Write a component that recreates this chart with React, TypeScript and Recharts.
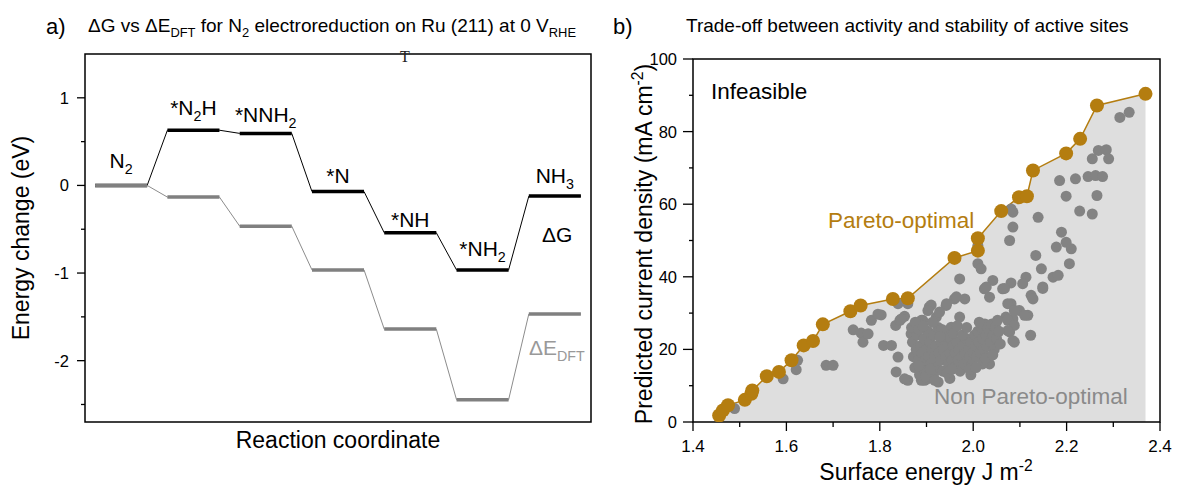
import React from 'react'
import { ComposedChart, Line, Area, Scatter, XAxis, YAxis, ReferenceArea } from 'recharts'

const FONT = '"Liberation Sans", Arial, Helvetica, sans-serif'
const ORANGE = '#b47d10'
const DOT_GRAY = '#838383'

// ---- panel a: energy diagram ----
const steps = ['N_2', '*N_2H', '*NNH_2', '*N', '*NH', '*NH_2', 'NH_3']
const dG = [0, 0.63, 0.594, -0.07, -0.54, -0.964, -0.122]
const dE = [0, -0.133, -0.465, -0.964, -1.64, -2.446, -1.467]
const energyTicks = [-2.5, -2, -1.5, -1, -0.5, 0, 0.5, 1]
// gap (px) between each level and its label baseline
const LABEL_GAP = [17, 15, 11, 9, 6, 14, 13]
const HALF = 0.36

// ---- panel b: pareto front ----
const paretoX = [1.456, 1.464, 1.475, 1.511, 1.525, 1.527, 1.558, 1.584, 1.611, 1.637, 1.657, 1.678, 1.737, 1.759, 1.828, 1.86, 1.96, 2.01, 2.01, 2.06, 2.098, 2.115, 2.128, 2.199, 2.229, 2.265, 2.369]
const paretoY = [1.8, 3.2, 4.6, 6.1, 7.8, 8.7, 12.6, 13.8, 17.0, 21.1, 22.3, 26.9, 30.5, 32.1, 33.9, 34.1, 45.2, 47.2, 50.6, 58.1, 61.9, 62.2, 69.3, 74.0, 78.0, 87.2, 90.4]
const otherPoints: [number, number][] = [
  [1.489, 3.7], [1.593, 11.9], [1.624, 17.0], [1.621, 14.4], [1.685, 15.6], [1.7, 15.6],
  [1.743, 25.4], [1.76, 24.5], [1.764, 22.0], [1.782, 28.0], [1.803, 29.5], [1.808, 21.1],
  [1.825, 21.1], [1.839, 17.9], [1.835, 13.8], [1.839, 32.6], [1.834, 26.6], [1.843, 28.0],
  [1.853, 29.1], [1.86, 32.6], [1.86, 11.5], [1.867, 24.3], [1.896, 11.5], [1.892, 28.0],
  [1.906, 31.7], [1.921, 28.9], [1.942, 32.1], [1.96, 33.9], [1.982, 33.9], [1.971, 39.4],
  [1.971, 28.9], [1.953, 26.1], [2.01, 43.6], [2.017, 42.2], [2.01, 48.6], [2.024, 36.7],
  [2.042, 39.0], [2.035, 34.4], [2.063, 36.7], [2.081, 38.3], [2.078, 50.0], [2.085, 53.7],
  [2.085, 57.8], [2.081, 58.7], [2.113, 39.9], [2.106, 38.1], [2.124, 34.9], [2.128, 33.9],
  [2.139, 56.4], [2.134, 45.9], [2.146, 42.2], [2.149, 37.2], [2.081, 32.6], [2.099, 30.7],
  [2.117, 29.4], [2.07, 28.9], [2.085, 28.4], [2.078, 24.8], [2.088, 22.0], [2.123, 23.9],
  [2.171, 39.9], [2.182, 40.4], [2.178, 48.2], [2.189, 52.3], [2.199, 49.5], [2.21, 47.7],
  [2.206, 43.6], [2.185, 66.5], [2.199, 62.2], [2.219, 67.0], [2.228, 58.1], [2.255, 57.3],
  [2.246, 67.6], [2.262, 67.9], [2.277, 67.6], [2.265, 62.4], [2.255, 72.5], [2.268, 74.8],
  [2.285, 75.0], [2.29, 72.5], [2.314, 83.9], [2.334, 85.3],
  [1.91, 32.2], [1.943, 32.6], [1.964, 34.5], [1.903, 30.7], [1.928, 30.3], [1.889, 28.0],
  [1.846, 28.4], [1.796, 29.7], [1.775, 24.3], [2.028, 37.2], [2.067, 36.8], [2.149, 36.8],
  [2.074, 32.6], [2.088, 30.7], [2.11, 29.4], [2.074, 28.0], [2.088, 26.6], [2.074, 25.2],
  [2.085, 22.4], [1.853, 11.9], [1.889, 11.5],
  [1.87, 22], [1.872, 18], [1.875, 15], [1.878, 20], [1.88, 24], [1.882, 17], [1.885, 13],
  [1.887, 21], [1.89, 19], [1.892, 15], [1.895, 23], [1.897, 17], [1.9, 20], [1.9, 14],
  [1.903, 25], [1.905, 18], [1.907, 22], [1.91, 16], [1.912, 20], [1.915, 13], [1.915, 24],
  [1.918, 18], [1.92, 21], [1.922, 15], [1.925, 26], [1.927, 19], [1.93, 17], [1.932, 22],
  [1.935, 14], [1.937, 20], [1.94, 24], [1.942, 18], [1.945, 21], [1.947, 16], [1.95, 19],
  [1.952, 23], [1.955, 17], [1.957, 21], [1.96, 15], [1.962, 19], [1.965, 22], [1.968, 17],
  [1.97, 20], [1.972, 14], [1.975, 18], [1.978, 21], [1.98, 16], [1.983, 19], [1.985, 23],
  [1.988, 17], [1.99, 20], [1.993, 18], [1.995, 22], [1.998, 16], [2.0, 19], [2.003, 24],
  [2.005, 21], [2.008, 18], [2.01, 25], [2.012, 22], [2.015, 19], [2.018, 26], [2.02, 23],
  [2.022, 20], [2.025, 27], [2.028, 24], [2.03, 21], [2.033, 18], [2.035, 25], [2.038, 22],
  [2.04, 27], [2.043, 24], [2.045, 20], [2.048, 26], [2.05, 23], [2.055, 25], [2.035, 16],
  [2.02, 16], [1.995, 13], [1.95, 12], [1.925, 11], [1.905, 12],
  [1.868, 26], [1.876, 27.5], [1.884, 25.5], [1.893, 26.5], [1.898, 12.5], [1.913, 27.5],
  [1.918, 11.5], [1.933, 25.5], [1.944, 13.5], [1.958, 24.5], [1.966, 26.5], [1.977, 24],
  [1.986, 26], [1.992, 14.5], [2.006, 15], [2.013, 27.5], [2.026, 17.5], [2.042, 18.5],
  [2.052, 28], [2.058, 21.5], [1.883, 15.5], [1.908, 14.5], [1.929, 23.5], [1.954, 14.5],
]
const surfaceTicks = [1.4, 1.5, 1.6, 1.7, 1.8, 1.9, 2.0, 2.1, 2.2, 2.3, 2.4]
const currentTicks = [0, 10, 20, 30, 40, 50, 60, 70, 80, 90, 100]

// "_x" / "_{xyz}" subscript, "^{..}" superscript
function rich(text: string, size: number) {
  const nodes: React.ReactNode[] = []
  const re = /([_^])(\{[^}]*\}|.)/g
  let last = 0
  let off = 0
  let k = 0
  let m: RegExpExecArray | null
  const push = (s: string, shift: number, fs: number) => {
    nodes.push(<tspan key={k++} dy={shift - off} fontSize={fs}>{s}</tspan>)
    off = shift
  }
  while ((m = re.exec(text)) !== null) {
    if (m.index > last) push(text.slice(last, m.index), 0, size)
    const body = m[2].startsWith('{') ? m[2].slice(1, -1) : m[2]
    push(body, m[1] === '_' ? size * 0.28 : -size * 0.4, size * 0.68)
    last = re.lastIndex
  }
  if (last < text.length) push(text.slice(last), 0, size)
  return nodes
}

function levelRows(vals: number[]) {
  const rows: { x: number; y: number | null }[] = []
  vals.forEach((v, i) => {
    rows.push({ x: i - HALF, y: v }, { x: i + HALF, y: v }, { x: i + HALF, y: null })
  })
  return rows
}
function pathRows(vals: number[]) {
  return vals.flatMap((v, i) => [{ x: i - HALF, y: v }, { x: i + HALF, y: v }])
}

const EnergyTick = (props: any) => {
  const { x, y, payload } = props
  const major = Number.isInteger(payload.value)
  return (
    <g>
      <line x1={x - (major ? 8 : 4)} x2={x} y1={y} y2={y} stroke="#000" strokeWidth={1.3} />
      {major && (
        <text x={x - 16} y={y} dy="0.36em" textAnchor="end" fontSize={16.5} fontFamily={FONT} fill="#000">
          {payload.value}
        </text>
      )}
    </g>
  )
}

const CurrentTick = (props: any) => {
  const { x, y, payload } = props
  const major = payload.value % 20 === 0
  return (
    <g>
      <line x1={x - (major ? 10 : 4)} x2={x} y1={y} y2={y} stroke="#000" strokeWidth={1.3} />
      {major && (
        <text x={x - 16} y={y} dy="0.36em" textAnchor="end" fontSize={16.5} fontFamily={FONT} fill="#000">
          {payload.value}
        </text>
      )}
    </g>
  )
}

const SurfaceTick = (props: any) => {
  const { x, y, payload } = props
  const major = Math.round(payload.value * 10) % 2 === 0
  return (
    <g>
      <line x1={x} x2={x} y1={y} y2={y + (major ? 9 : 5)} stroke="#000" strokeWidth={1.3} />
      {major && (
        <text x={x} y={y + 30} textAnchor="middle" fontSize={17} fontFamily={FONT} fill="#000">
          {payload.value.toFixed(1)}
        </text>
      )}
    </g>
  )
}

export default function App() {
  const labelRows = steps.map((s, i) => ({ x: i, y: dG[i], label: s, gap: LABEL_GAP[i] }))
  const paretoRows = paretoX.map((x, i) => ({ x, y: paretoY[i] }))
  const otherRows = otherPoints.map(([x, y]) => ({ x, y }))

  return (
    <div style={{ position: 'absolute', left: 0, top: 0, width: 1177, height: 487, background: '#fff', fontFamily: FONT }}>
      <div style={{ position: 'absolute', left: 0, top: 0 }}>
        <ComposedChart width={600} height={487} margin={{ top: 54, right: 9, bottom: 65, left: 40 }}>
          <XAxis type="number" dataKey="x" domain={[-0.5, 6.5]} hide allowDataOverflow />
          <YAxis
            type="number"
            dataKey="y"
            domain={[-2.7, 1.5]}
            ticks={energyTicks}
            interval={0}
            width={45}
            tickSize={0}
            tickMargin={0}
            tickLine={false}
            axisLine={false}
            tick={<EnergyTick />}
            allowDataOverflow
          />
          <Line data={pathRows(dG)} dataKey="y" stroke="#000" strokeWidth={1} dot={false} isAnimationActive={false} />
          <Line data={levelRows(dG)} dataKey="y" stroke="#000" strokeWidth={3.5} dot={false} isAnimationActive={false} />
          <Line data={pathRows(dE)} dataKey="y" stroke="#8c8c8c" strokeWidth={1} dot={false} isAnimationActive={false} />
          <Line data={levelRows(dE)} dataKey="y" stroke="#808080" strokeWidth={3.5} dot={false} isAnimationActive={false} />
          <Scatter
            data={labelRows}
            isAnimationActive={false}
            shape={(p: any) => (
              <text x={p.cx} y={p.cy - p.payload.gap} textAnchor="middle" fontSize={21} fontFamily={FONT} fill="#000">
                {rich(p.payload.label, 21)}
              </text>
            )}
          />
          <ReferenceArea x1={-0.5} x2={6.5} y1={-2.7} y2={1.5} fill="none" fillOpacity={0} stroke="#000" strokeWidth={1.5} ifOverflow="visible" />
        </ComposedChart>
      </div>

      <div style={{ position: 'absolute', left: 600, top: 0 }}>
        <ComposedChart width={577} height={487} margin={{ top: 59, right: 17, bottom: 25, left: 43 }}>
          <XAxis
            type="number"
            dataKey="x"
            domain={[1.4, 2.4]}
            ticks={surfaceTicks}
            interval={0}
            height={40}
            tickSize={0}
            tickMargin={0}
            tickLine={false}
            axisLine={false}
            tick={<SurfaceTick />}
            allowDataOverflow
          />
          <YAxis
            type="number"
            dataKey="y"
            domain={[0, 100]}
            ticks={currentTicks}
            interval={0}
            width={50}
            tickSize={0}
            tickMargin={0}
            tickLine={false}
            axisLine={false}
            tick={<CurrentTick />}
            allowDataOverflow
          />
          <Area data={paretoRows} dataKey="y" type="linear" baseValue={0} fill="#dedede" fillOpacity={1} stroke="none" isAnimationActive={false} />
          <Scatter
            data={otherRows}
            isAnimationActive={false}
            shape={(p: any) => <circle cx={p.cx} cy={p.cy} r={5.5} fill={DOT_GRAY} />}
          />
          <Line
            data={paretoRows}
            dataKey="y"
            type="linear"
            stroke={ORANGE}
            strokeWidth={1.5}
            dot={{ r: 7, fill: ORANGE, stroke: ORANGE, strokeWidth: 0 }}
            isAnimationActive={false}
          />
          <ReferenceArea x1={1.4} x2={2.4} y1={0} y2={100} fill="none" fillOpacity={0} stroke="#000" strokeWidth={1.5} ifOverflow="visible" />
        </ComposedChart>
      </div>

      <svg width={1177} height={487} style={{ position: 'absolute', left: 0, top: 0, pointerEvents: 'none' }} fontFamily={FONT}>
        <text x={46} y={34} fontSize={22}>a)</text>
        <text x={88} y={32} fontSize={19}>{rich('ΔG vs ΔE_{DFT} for N_2 electroreduction on Ru (211) at 0 V_{RHE}', 19)}</text>
        <text x={405} y={62} fontSize={16} textAnchor="middle" fontFamily='"Liberation Serif", "DejaVu Serif", serif' fill="#222">T</text>
        <text x={29} y={238} fontSize={23} textAnchor="middle" transform="rotate(-90 29 238)">Energy change (eV)</text>
        <text x={338} y={448} fontSize={23} textAnchor="middle">Reaction coordinate</text>
        <text x={542} y={242} fontSize={21}>ΔG</text>
        <text x={529} y={355} fontSize={21} fill="#999">{rich('ΔE_{DFT}', 21)}</text>

        <text x={613} y={34} fontSize={22}>b)</text>
        <text x={686} y={32} fontSize={19}>Trade-off between activity and stability of active sites</text>
        <text x={652} y={244} fontSize={23} textAnchor="middle" transform="rotate(-90 652 244)">{rich('Predicted current density (mA cm^{-2})', 23)}</text>
        <text x={926} y={480} fontSize={23} textAnchor="middle">{rich('Surface energy J m^{-2}', 23)}</text>
        <text x={711} y={99} fontSize={22.5}>Infeasible</text>
        <text x={828} y={228} fontSize={22.5} fill={ORANGE}>Pareto-optimal</text>
        <text x={934} y={404} fontSize={22.5} fill="#8a8a8a">Non Pareto-optimal</text>
      </svg>
    </div>
  )
}
